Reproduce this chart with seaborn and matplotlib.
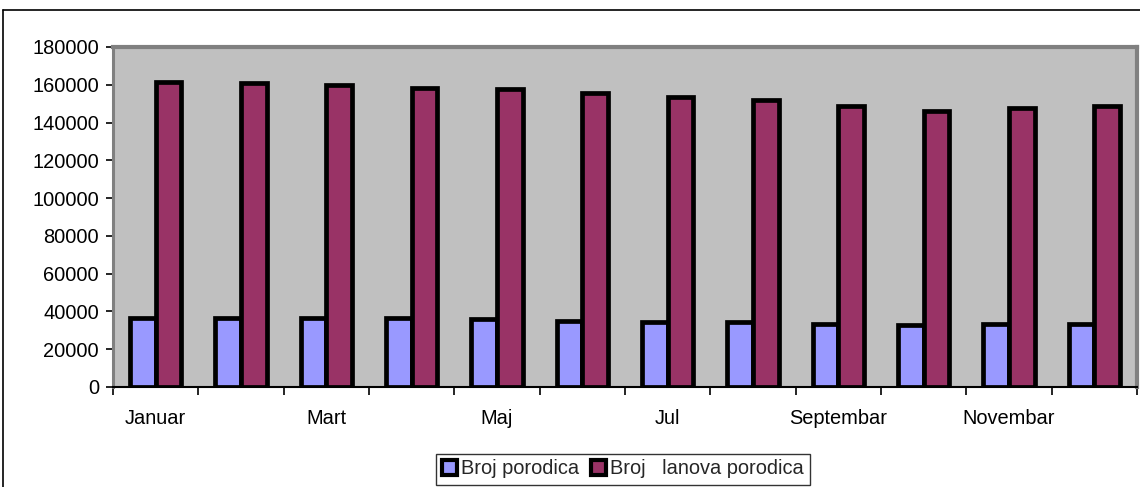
import matplotlib
matplotlib.use("Agg")
import matplotlib.pyplot as plt
import seaborn as sns
import pandas as pd
from matplotlib.patches import Patch
from matplotlib.lines import Line2D
from matplotlib.ticker import FixedLocator

months = ["Januar", "Februar", "Mart", "April", "Maj", "Jun",
          "Jul", "Avgust", "Septembar", "Oktobar", "Novembar", "Decembar"]
porodica = [36500, 36500, 36300, 36300, 35800, 34900,
            34400, 34400, 33500, 33000, 33400, 33600]
clanova = [161500, 161200, 159700, 158300, 157900, 155600,
           153400, 151900, 148600, 146000, 147900, 148800]
series_names = ["Broj porodica", "Broj   lanova porodica"]
yticks = list(range(0, 180001, 20000))
shown_labels = ["Januar", "", "Mart", "", "Maj", "", "Jul", "", "Septembar", "", "Novembar", ""]

df = pd.DataFrame({
    "Mjesec": months * 2,
    "Vrijednost": porodica + clanova,
    "Serija": [series_names[0]] * 12 + [series_names[1]] * 12,
})

colors = ["#9999FF", "#993366"]
fs = 14.4

sns.set_theme(style="white")
plt.rcParams["font.family"] = ["Liberation Sans", "DejaVu Sans"]

fig = plt.figure(figsize=(11.4, 4.87), dpi=100)
ax = fig.add_axes([113 / 1140, 1 - 387 / 487, 1024 / 1140, 340 / 487])
ax.set_facecolor("#C0C0C0")

sns.barplot(data=df, x="Mjesec", y="Vrijednost", hue="Serija",
            palette=colors, order=months, hue_order=series_names,
            width=0.6, edgecolor="black", linewidth=3.4, ax=ax,
            legend=False, saturation=1)

ax.set_xlim(-0.5, 11.5)
ax.set_ylim(0, 180000)
ax.set_yticks(yticks)
ax.set_yticklabels([str(v) for v in yticks], fontsize=fs, color="black")
ax.set_xticks(range(12))
ax.set_xticklabels(shown_labels, fontsize=fs, color="black")
ax.tick_params(axis="x", which="major", length=0, pad=16)
ax.xaxis.set_minor_locator(FixedLocator([i - 0.5 for i in range(13)]))
ax.tick_params(axis="x", which="minor", length=6, width=1.2, color="black", direction="out", bottom=True)
ax.tick_params(axis="y", length=5, width=1.2, color="black", direction="out", left=True, pad=5)
ax.set_xlabel("")
ax.set_ylabel("")

for side in ["top", "right"]:
    ax.spines[side].set_color("#808080")
    ax.spines[side].set_linewidth(3)
ax.spines["left"].set_color("#808080")
ax.spines["left"].set_linewidth(2.2)
ax.spines["bottom"].set_color("black")
ax.spines["bottom"].set_linewidth(1.5)

# outer chart border
fig.add_artist(Line2D([3 / 1140, 3 / 1140], [0, 1 - 10 / 487], transform=fig.transFigure,
                      color="black", linewidth=1.2))
fig.add_artist(Line2D([3 / 1140, 1], [1 - 10 / 487, 1 - 10 / 487], transform=fig.transFigure,
                      color="black", linewidth=1.2))

handles = [Patch(facecolor=c, edgecolor="black", linewidth=3) for c in colors]
leg = fig.legend(handles, series_names, loc="center", bbox_to_anchor=(623 / 1140, 1 - 469 / 487),
                 ncol=2, frameon=True, fancybox=False, fontsize=fs,
                 handlelength=0.75, handleheight=0.75, handletextpad=0.2,
                 columnspacing=0.6, borderpad=0.3, borderaxespad=0)
leg.get_frame().set_edgecolor("black")
leg.get_frame().set_linewidth(1.0)

fig.savefig("out.png", dpi=100)
